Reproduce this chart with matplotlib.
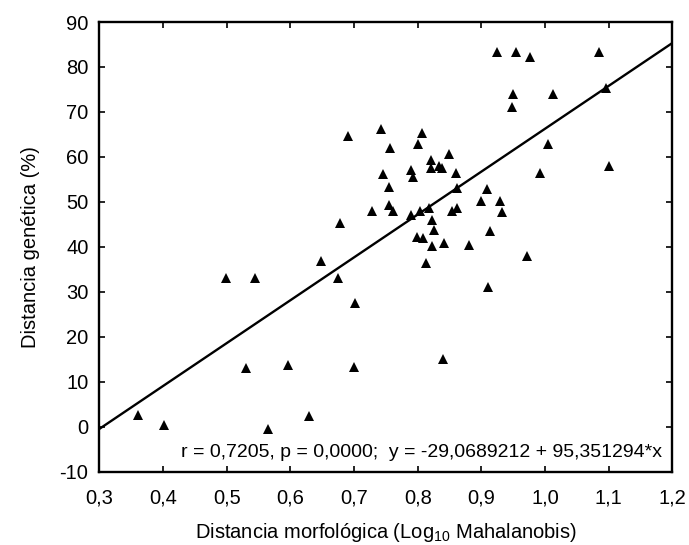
# Scatter of genetic vs morphological distance with linear fit
import numpy as np
import matplotlib.pyplot as plt

plt.rcParams['font.family'] = ['Liberation Sans', 'DejaVu Sans']
plt.rcParams['axes.unicode_minus'] = False

# --------------------------------------------------
# data
# --------------------------------------------------
x_morf = [0.361, 0.401, 0.499, 0.530, 0.545, 0.565, 0.596, 0.629, 0.648, 0.674,
          0.678, 0.690, 0.699, 0.702, 0.728, 0.742, 0.745, 0.755, 0.754, 0.757,
          0.761, 0.790, 0.792, 0.790, 0.798, 0.800, 0.803, 0.807, 0.808, 0.813,
          0.817, 0.820, 0.820, 0.823, 0.823, 0.826, 0.833, 0.838, 0.839, 0.841,
          0.849, 0.853, 0.861, 0.860, 0.862, 0.881, 0.899, 0.909, 0.911, 0.914,
          0.924, 0.929, 0.933, 0.948, 0.950, 0.954, 0.972, 0.977, 0.992, 1.004,
          1.012, 1.084, 1.096, 1.101]
y_gen = [2.7, 0.4, 33.0, 13.0, 33.0, -0.4, 13.8, 2.4, 36.8, 33.0,
         45.4, 64.7, 13.3, 27.6, 48.0, 66.1, 56.2, 53.4, 49.2, 62.0,
         48.0, 57.1, 55.6, 47.1, 42.3, 62.8, 48.0, 65.4, 41.9, 36.4,
         48.6, 59.4, 57.6, 46.0, 40.1, 43.8, 57.9, 57.5, 15.0, 40.8,
         60.6, 48.0, 48.6, 56.5, 53.2, 40.4, 50.1, 52.9, 31.0, 43.6,
         83.4, 50.1, 47.7, 71.0, 74.0, 83.4, 38.0, 82.2, 56.4, 62.8,
         73.9, 83.4, 75.3, 58.0]

# regression coefficients printed on the chart
b0 = -29.0689212
b1 = 95.351294
fit_text = 'r = 0,7205, p = 0,0000;  y = -29,0689212 + 95,351294*x'

x_ticks = [0.3, 0.4, 0.5, 0.6, 0.7, 0.8, 0.9, 1.0, 1.1, 1.2]
x_ticklabels = ['0,3', '0,4', '0,5', '0,6', '0,7', '0,8', '0,9', '1,0', '1,1', '1,2']
y_ticks = np.arange(-10, 91, 10)

# --------------------------------------------------
# plot
# --------------------------------------------------
fig = plt.figure(figsize=(6.89, 5.45), dpi=100)
ax = fig.add_axes([0.1444, 0.1345, 0.8316, 0.8251])

xx = np.array([0.3, 1.2])
ax.plot(xx, b0 + b1*xx, color='k', linewidth=1.7)
ax.plot(x_morf, y_gen, linestyle='none', marker='^', markersize=7.5,
        color='k', markeredgewidth=0)

ax.set_xlim(0.3, 1.2)
ax.set_ylim(-10, 90)
ax.set_xticks(x_ticks)
ax.set_xticklabels(x_ticklabels)
ax.set_yticks(y_ticks)

ax.tick_params(direction='in', length=4, width=1.2, labelsize=14.5,
               top=True, right=True)
ax.tick_params(axis='x', pad=12)
ax.tick_params(axis='y', pad=8)
for sp in ax.spines.values():
    sp.set_linewidth(1.7)

ax.text(1.184, -6.8, fit_text, ha='right', va='baseline', fontsize=14)

ax.set_xlabel('Distancia morfológica (Log$_{\\mathregular{10}}$ Mahalanobis)',
              fontsize=14.5, labelpad=10)
ax.set_ylabel('Distancia genética (%)', fontsize=14.5, labelpad=14)

fig.savefig('out.png', dpi=100)
